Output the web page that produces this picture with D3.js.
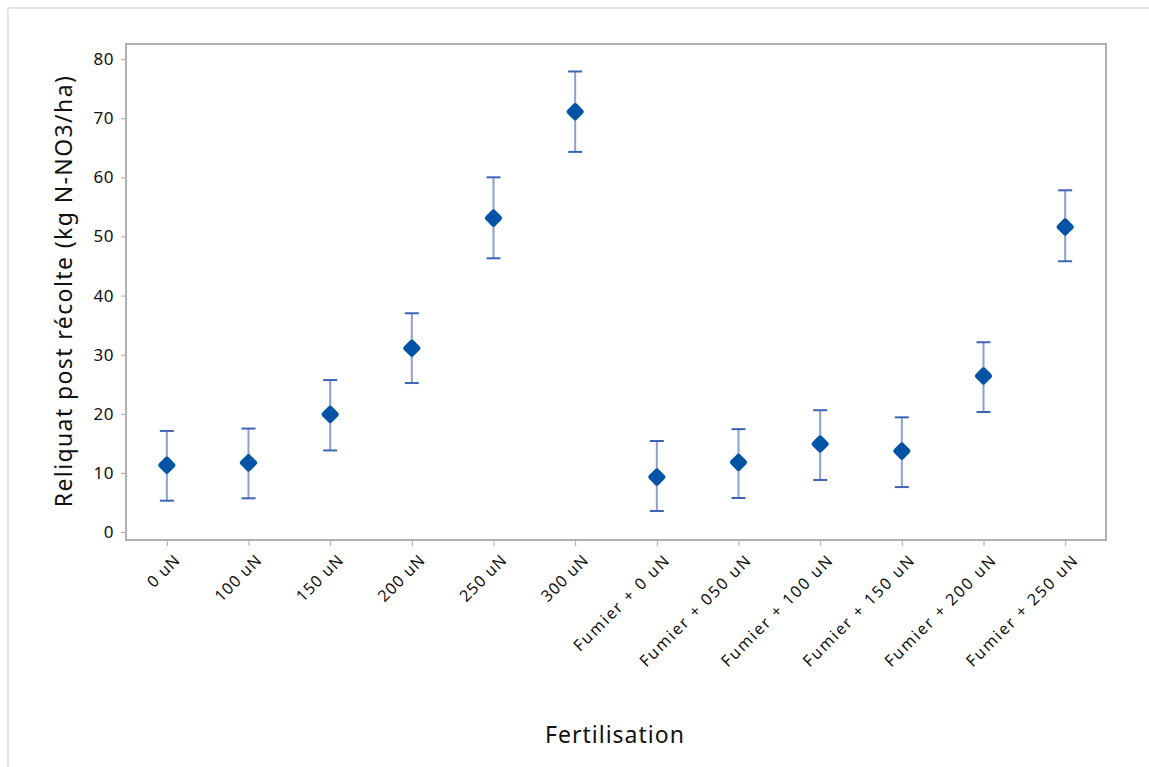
<!DOCTYPE html>
<html>
<head>
<meta charset="utf-8">
<script src="https://cdn.jsdelivr.net/npm/d3@7"></script>
<style>
  body { margin: 0; background: #fff; }
  svg { display: block; font-family: "Noto Sans", "Open Sans", sans-serif; }
</style>
</head>
<body>
<svg id="chart" width="1149" height="767"></svg>
<script>
const categories = ["0 uN", "100 uN", "150 uN", "200 uN", "250 uN", "300 uN",
  "Fumier + 0 uN", "Fumier + 050 uN", "Fumier + 100 uN", "Fumier + 150 uN",
  "Fumier + 200 uN", "Fumier + 250 uN"];
const means = [11.3, 11.7, 19.9, 31.1, 53.1, 71.1, 9.3, 11.8, 14.9, 13.7, 26.4, 51.6];
const lower = [5.3, 5.7, 13.8, 25.2, 46.3, 64.3, 3.55, 5.75, 8.8, 7.6, 20.3, 45.8];
const upper = [17.1, 17.5, 25.7, 37.0, 60.0, 77.9, 15.4, 17.4, 20.6, 19.4, 32.1, 57.8];
const yTicks = [0, 10, 20, 30, 40, 50, 60, 70, 80];

const data = categories.map((c, i) => ({ cat: c, mean: means[i], lo: lower[i], hi: upper[i] }));

const svg = d3.select("#chart");
const margin = { left: 126, top: 44, right: 1106, bottom: 540 };

// outer frame (top + left only)
svg.append("line").attr("x1", 8).attr("y1", 8).attr("x2", 1149).attr("y2", 8)
  .attr("stroke", "#e6e6e6").attr("stroke-width", 2);
svg.append("line").attr("x1", 8).attr("y1", 8).attr("x2", 8).attr("y2", 767)
  .attr("stroke", "#e6e6e6").attr("stroke-width", 2);

const x = d3.scalePoint()
  .domain(categories)
  .range([margin.left, margin.right])
  .padding(0.5);

const y = d3.scaleLinear()
  .domain([-1.35, 82.55])
  .range([margin.bottom, margin.top]);

// y axis
const yAxis = svg.append("g")
  .attr("transform", `translate(${margin.left},0)`)
  .call(d3.axisLeft(y).tickValues(yTicks).tickSize(5).tickPadding(7));
yAxis.select(".domain").remove();
yAxis.selectAll("line").attr("stroke", "#a6a6a6");
yAxis.selectAll("text").attr("font-size", 17).attr("fill", "#111")
  .attr("letter-spacing", 0.5)
  .attr("font-family", "Noto Sans, sans-serif");

// x axis
const xAxis = svg.append("g")
  .attr("transform", `translate(0,${margin.bottom})`)
  .call(d3.axisBottom(x).tickSize(6).tickPadding(6));
xAxis.select(".domain").remove();
xAxis.selectAll("line").attr("stroke", "#a6a6a6");
xAxis.selectAll("text")
  .attr("font-size", 16).attr("fill", "#111")
  .attr("letter-spacing", d => d.startsWith("Fumier") ? 1.8 : 0.9)
  .attr("font-family", "Noto Sans, sans-serif")
  .attr("text-anchor", "end")
  .attr("x", 0).attr("y", 0)
  .attr("dy", "0.35em")
  .attr("transform", "translate(10,17) rotate(-45)");

// plot frame
svg.append("rect")
  .attr("x", margin.left).attr("y", margin.top)
  .attr("width", margin.right - margin.left)
  .attr("height", margin.bottom - margin.top)
  .attr("fill", "none").attr("stroke", "#b0b0b0").attr("stroke-width", 2);

// error bars
const g = svg.append("g");
g.selectAll(".bar").data(data).enter().append("line")
  .attr("x1", d => x(d.cat)).attr("x2", d => x(d.cat))
  .attr("y1", d => y(d.lo)).attr("y2", d => y(d.hi))
  .attr("stroke", "#8c9fd0").attr("stroke-width", 2);
g.selectAll(".capT").data(data).enter().append("line")
  .attr("x1", d => x(d.cat) - 7).attr("x2", d => x(d.cat) + 7)
  .attr("y1", d => y(d.hi)).attr("y2", d => y(d.hi))
  .attr("stroke", "#3b64b4").attr("stroke-width", 2);
g.selectAll(".capB").data(data).enter().append("line")
  .attr("x1", d => x(d.cat) - 7).attr("x2", d => x(d.cat) + 7)
  .attr("y1", d => y(d.lo)).attr("y2", d => y(d.lo))
  .attr("stroke", "#3b64b4").attr("stroke-width", 2);

// markers
g.selectAll(".pt").data(data).enter().append("path")
  .attr("d", d3.symbol().type(d3.symbolDiamond2).size(95))
  .attr("transform", d => `translate(${x(d.cat)},${y(d.mean)})`)
  .attr("fill", "#0053a5").attr("stroke", "#0053a5")
  .attr("stroke-width", 5).attr("stroke-linejoin", "round");

// axis titles
svg.append("text")
  .attr("x", 615).attr("y", 743)
  .attr("text-anchor", "middle")
  .attr("font-size", 23).attr("fill", "#111")
  .attr("letter-spacing", 1)
  .text("Fertilisation");

svg.append("text")
  .attr("transform", "translate(72,291) rotate(-90)")
  .attr("text-anchor", "middle")
  .attr("font-size", 23).attr("fill", "#111")
  .attr("letter-spacing", 1.4)
  .text("Reliquat post récolte (kg N-NO3/ha)");
</script>
</body>
</html>
